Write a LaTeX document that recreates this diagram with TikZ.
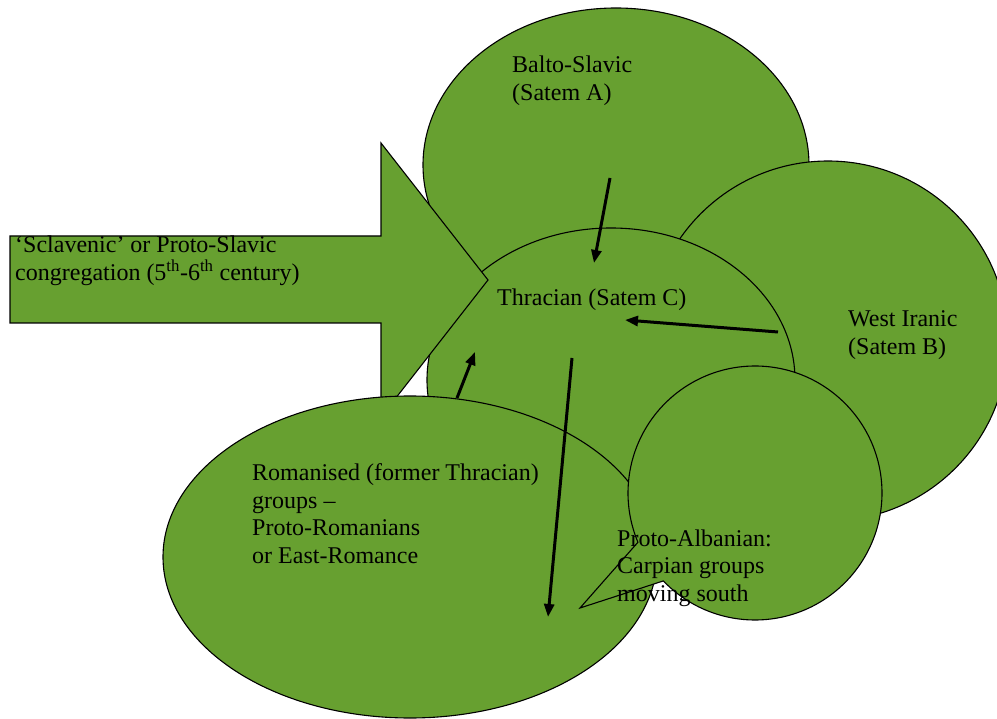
\documentclass[tikz,border=0pt]{standalone}
\usepackage{fontspec}
\setmainfont{Liberation Serif}
\usetikzlibrary{arrows.meta,shapes.geometric,shapes.callouts}
\definecolor{blobgreen}{RGB}{103,160,48}
\tikzset{
  region/.style={draw=black, line width=1.1pt, fill=blobgreen, inner sep=0pt, outer sep=0pt},
  txt/.style={inner sep=0pt, anchor=base west, text=black,
              font=\fontsize{24}{27.5}\selectfont},
  flow/.style={line width=3pt, -{Triangle[length=13pt,width=10pt]}}
}
\begin{document}
\begin{tikzpicture}[x=1pt,y=1pt]
\fill[white] (0,-719) rectangle (997,0);
\useasboundingbox (0,-719) rectangle (997,0);

% regions, back to front
\node[region, ellipse, minimum width=386pt, minimum height=314pt] (balto) at (616,-165) {};
\node[region, circle, minimum size=360pt] (iran) at (828,-341) {};
\node[region, ellipse, minimum width=368pt, minimum height=304pt] (thrac) at (611,-380) {};
\draw[region] (10,-236) -- (381,-236) -- (381,-143) -- (488,-280)
      -- (381,-417) -- (381,-323) -- (10,-323) -- cycle;
\node[region, ellipse, minimum width=494pt, minimum height=322pt] (roman) at (410,-557) {};
\node[region, ellipse callout, callout absolute pointer={(580,-608)},
      callout pointer arc=21, minimum width=254pt, minimum height=254pt] (alban) at (755,-493) {};

% labels
\node[txt] (tslav) at (15,-253) {\vtop{\hbox{‘Sclavenic’ or Proto-Slavic}\hbox{congregation (5\textsuperscript{th}-6\textsuperscript{th} century)}}};
\node[txt] (tbalto) at (512,-73) {\vtop{\hbox{Balto-Slavic}\hbox{(Satem A)}}};
\node[txt] (tthrac) at (497,-306) {Thracian (Satem C)};
\node[txt] (tiran) at (848,-327) {\vtop{\hbox{West Iranic}\hbox{(Satem B)}}};
\node[txt] (troman) at (252,-481) {\vtop{\hbox{Romanised (former Thracian)}\hbox{groups –}\hbox{Proto-Romanians}\hbox{or East-Romance}}};
\node[txt] (talban) at (617,-546) {\vtop{\hbox{Proto-Albanian:}\hbox{Carpian groups}\hbox{moving south}}};

% movement arrows
\coordinate (a1s) at (610,-178); \coordinate (a1e) at (594,-263);
\coordinate (a2s) at (778,-332); \coordinate (a2e) at (625,-320);
\coordinate (a3s) at (457,-398); \coordinate (a3e) at (475,-352);
\coordinate (a4s) at (572,-358); \coordinate (a4e) at (548,-617);
\draw[flow] (a1s) -- (a1e);
\draw[flow] (a2s) -- (a2e);
\draw[flow] (a3s) -- (a3e);
\draw[flow] (a4s) -- (a4e);
\end{tikzpicture}
\end{document}
